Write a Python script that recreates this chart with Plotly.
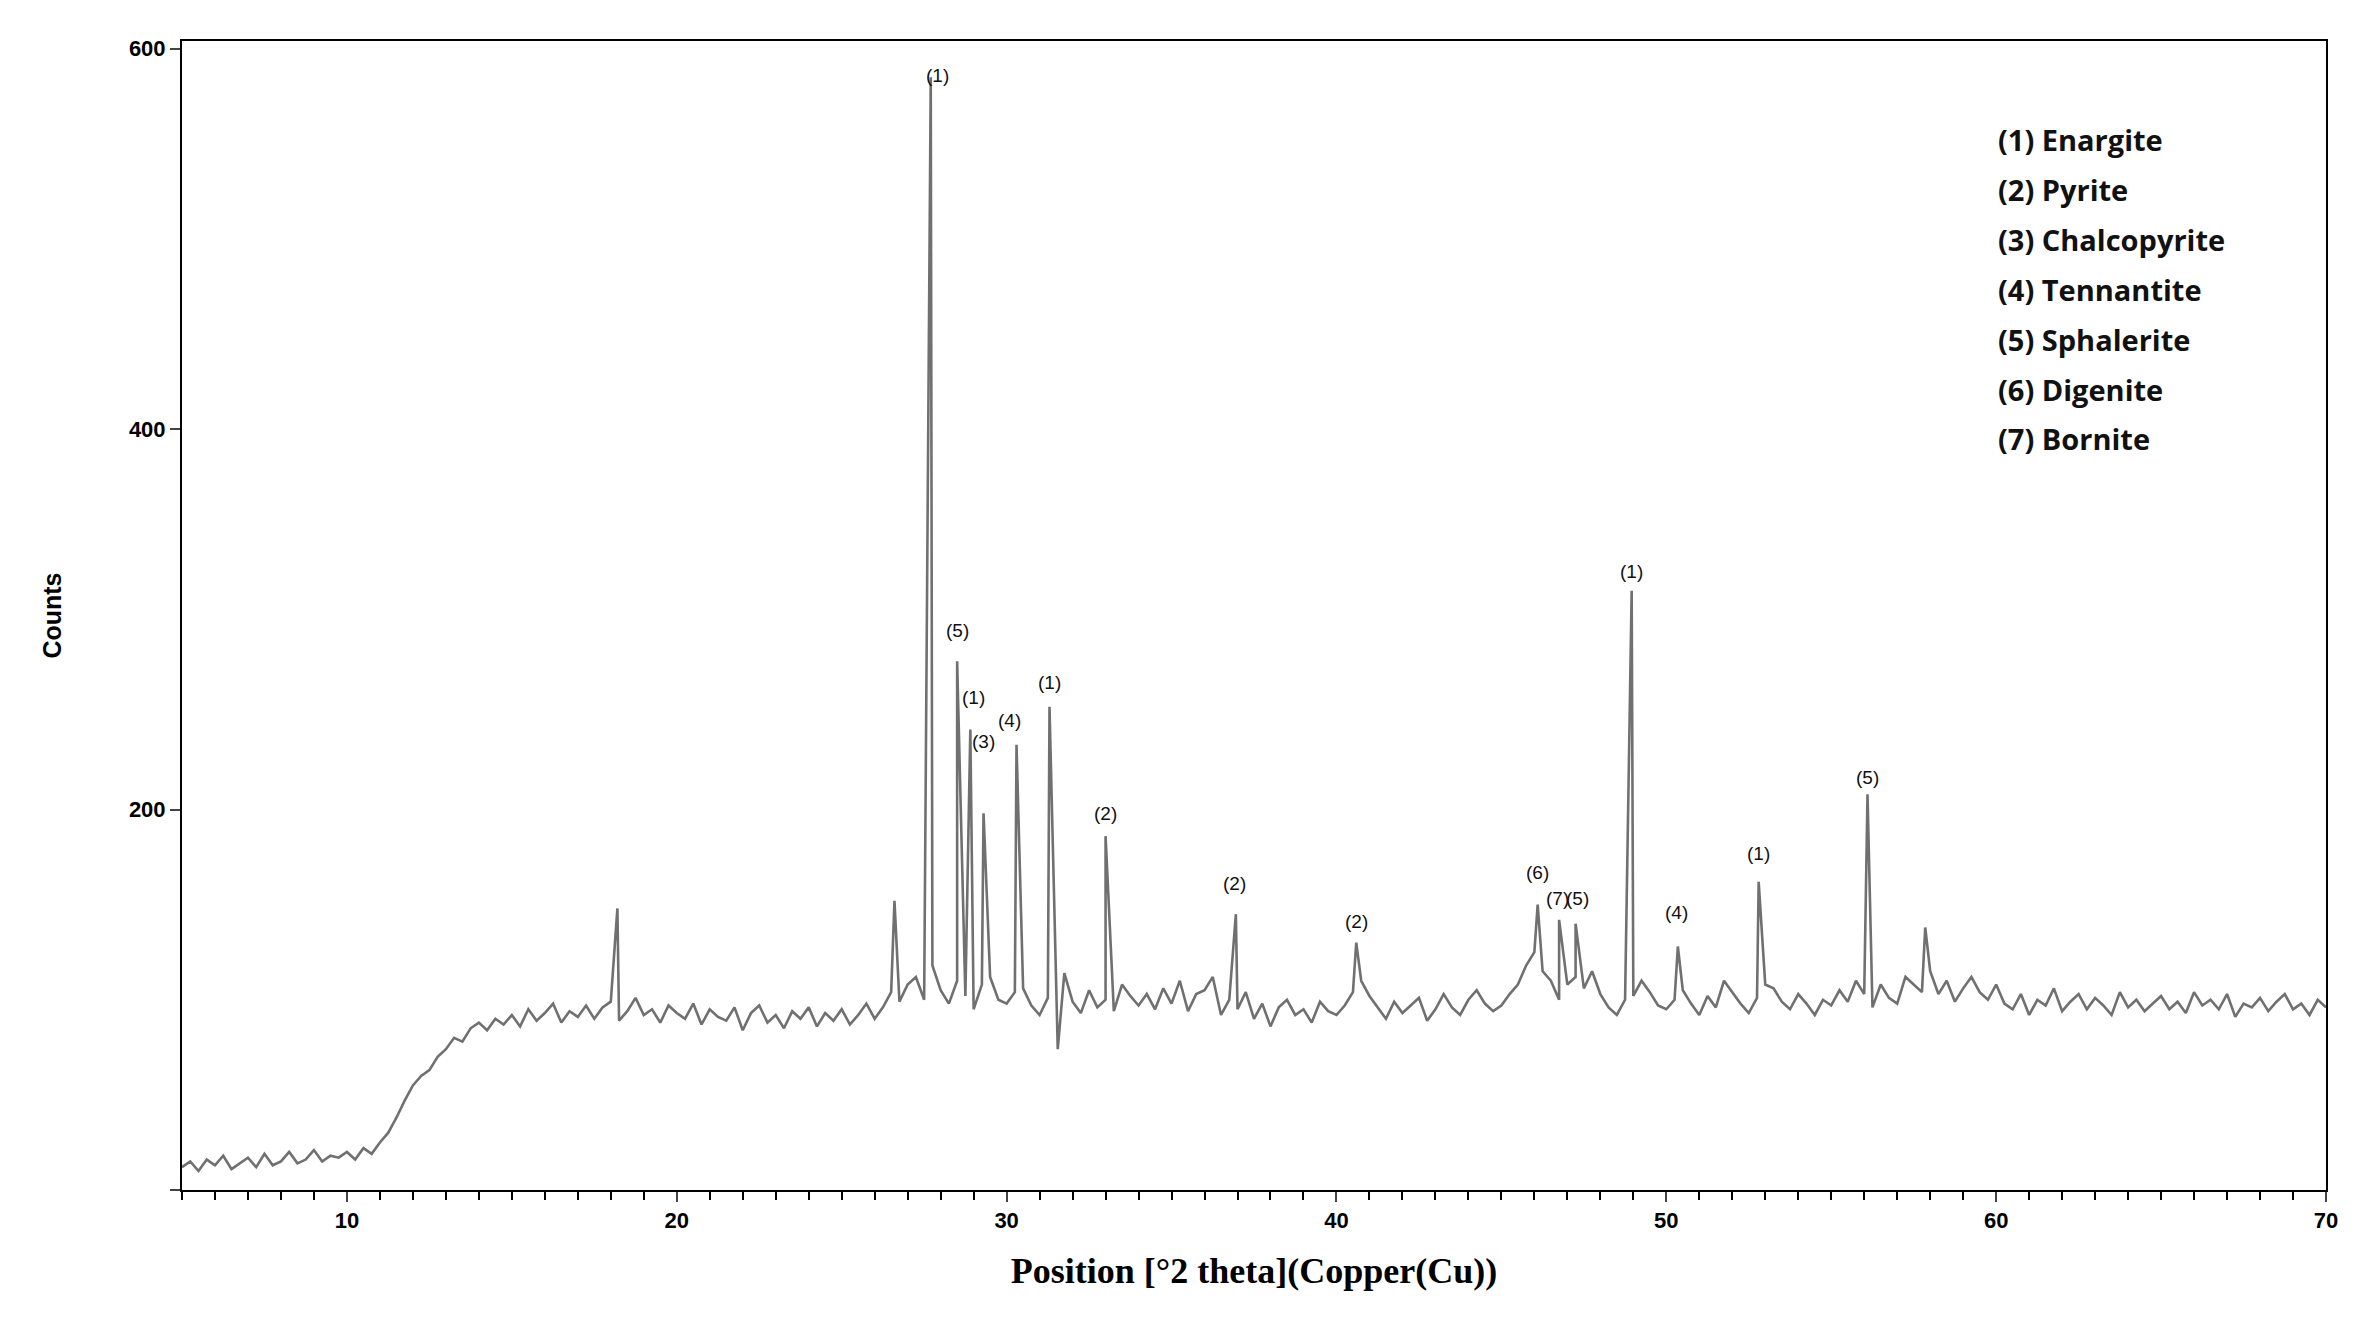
import plotly.graph_objects as go

x_start, x_step = 5.0, 0.25
base_y = [
 12,15,10,16,13,18,11,14,17,12,19,13,15,20,14,16,21,15,18,17,
 20,16,22,19,25,30,38,47,55,60,63,70,74,80,78,85,88,84,90,87,
 92,86,95,89,93,98,88,94,91,97,90,96,99,89,94,101,92,95,88,97,
 93,90,98,87,95,91,89,96,84,93,97,88,92,85,94,90,96,86,93,89,
 95,87,92,98,90,96,104,99,108,112,100,118,105,98,110,102,95,108,112,100,
 98,104,106,97,92,101,110,114,99,93,105,96,100,94,108,102,97,103,95,106,
 98,110,94,103,105,112,92,100,95,104,90,98,86,96,100,92,95,88,99,94,
 92,97,104,110,102,96,90,99,93,97,101,89,95,103,96,92,100,105,98,94,
 97,103,108,118,125,115,110,100,108,112,106,115,103,96,92,100,102,110,104,97,
 95,100,105,98,92,102,96,110,104,98,93,101,108,106,99,95,103,98,92,100,
 97,105,99,110,103,96,108,101,98,112,108,104,115,103,110,99,106,112,104,100,
 108,98,95,103,92,100,97,106,94,99,103,95,101,97,92,104,96,100,94,98,
 102,95,99,93,104,97,100,95,103,91,98,96,101,94,99,103,95,98,92,100,
 96]
base_x = [x_start + i * x_step for i in range(len(base_y))]

peak_x = [18.2, 26.6, 27.7, 28.5, 28.9, 29.3, 30.3, 31.3, 31.55, 33.0, 36.95, 40.6,
          46.1, 46.75, 47.25, 48.95, 50.35, 52.8, 56.1, 57.85]
peak_y = [148, 152, 585, 278, 242, 198, 234, 254, 74, 186, 145, 130,
          150, 142, 140, 315, 128, 162, 208, 138]

label_x = [27.9, 28.5, 29.0, 29.3, 30.1, 31.3, 33.0, 36.9, 40.6, 46.1, 46.7, 47.3, 48.95, 50.3, 52.8, 56.1]
label_y = [586, 294, 259, 236, 247, 267, 198, 161, 141, 167, 153, 153, 325, 146, 177, 217]
label_t = ["(1)", "(5)", "(1)", "(3)", "(4)", "(1)", "(2)", "(2)", "(2)", "(6)", "(7)", "(5)", "(1)", "(4)", "(1)", "(5)"]

legend_items = ["(1) Enargite", "(2) Pyrite", "(3) Chalcopyrite", "(4) Tennantite",
                "(5) Sphalerite", "(6) Digenite", "(7) Bornite"]

pts = sorted(zip(base_x + peak_x, base_y + peak_y))
xs = [p[0] for p in pts]
ys = [p[1] for p in pts]

fig = go.Figure(go.Scatter(x=xs, y=ys, mode="lines", line=dict(color="#707070", width=2.6)))

ann = []
for lx, ly, lt in zip(label_x, label_y, label_t):
    ann.append(dict(x=lx, y=ly, text=lt, showarrow=False, yanchor="middle",
                    font=dict(family="Liberation Sans Narrow, Arial", size=19, color="#111")))
for i, t in enumerate(legend_items):
    ann.append(dict(x=60.0, y=552 - i * 26.2, text="<b>" + t + "</b>", showarrow=False,
                    xanchor="left", yanchor="middle",
                    font=dict(family="Open Sans", size=29, color="#111")))

fig.update_layout(
    width=2368, height=1336, plot_bgcolor="white", paper_bgcolor="white",
    margin=dict(l=174, r=50, t=33, b=154), showlegend=False, annotations=ann,
    xaxis=dict(range=[5, 70], tickvals=[10, 20, 30, 40, 50, 60, 70],
               ticktext=["<b>%d</b>" % v for v in [10, 20, 30, 40, 50, 60, 70]],
               ticks="outside", ticklen=10, tickwidth=2, showgrid=False, zeroline=False,
               showline=True, linecolor="black", linewidth=2, mirror=True,
               minor=dict(dtick=1, ticks="outside", ticklen=8, tickcolor="black"),
               tickfont=dict(family="Liberation Sans", size=22, color="black"),
               title=dict(text="<b>Position [°2 theta](Copper(Cu))</b>", standoff=25,
                          font=dict(family="Liberation Serif", size=36, color="black"))),
    yaxis=dict(range=[0, 604], tickvals=[0, 200, 400, 600], ticktext=["", "<b>200</b>", "<b>400</b>", "<b>600</b>"],
               ticks="outside", ticklen=10, tickwidth=2, showgrid=False, zeroline=False,
               showline=True, linecolor="black", linewidth=2, mirror=True,
               tickfont=dict(family="Liberation Sans", size=22, color="black"),
               title=dict(text="<b>Counts</b>", standoff=60,
                          font=dict(family="Liberation Sans", size=25, color="black"))),
)
fig.write_html("out.html")
